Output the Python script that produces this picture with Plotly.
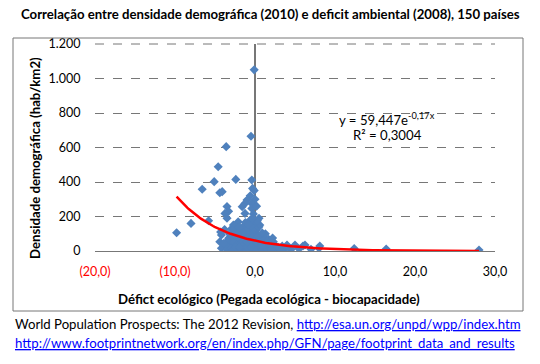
import numpy as np
import plotly.graph_objects as go

# Countries: ecological deficit (x) vs population density (y)
deficit = [
    -0.1, -0.5, -3.6, -4.6, -5.1, -2.4, -0.4, -6.6, -4.4, -4.1,
    -0.3, -0.1, -0.6, -1.0, -0.4, -1.25, -3.5, -1.6, -3.3, -1.25,
    -0.4, -3.75, -3.5, -5.8, -8.0, -9.8, -2.1, -0.6, 0.0, -0.2,
    -2.9, -1.5, -0.6, -4.2, -4.4, -4.2, -2.5, -3.3, -2.7, -2.2,
    -2.8, -2.4, -1.9, -1.3, -0.9, -0.3, -0.2, -1.7, -0.7,
    -3.0, -2.6, -2.2, -1.8, -1.4, -1.1, -0.8, -0.5, -0.2, -3.4, -2.0,
    -3.1, -2.7, -2.3, -1.9, -1.5, -1.2, -0.9, -0.6, -0.3, -0.1, -3.6, -1.6,
    -3.5, -3.0, -2.8, -2.1, -1.7, -1.3, -1.0, -0.7, -0.4, -0.2, -2.4, -1.9, -0.9,
    0.1, 0.3, 0.5, 0.2, 0.6, 0.4, 0.8, 1.0, 1.2, 0.7, 0.3, 0.1, 0.9, 1.4, 1.6, 1.9,
    2.1, 2.3, 2.5, 2.7, 1.1, 1.5, 1.8, 2.0, 2.9, 0.5, 0.2, 0.0, 0.4, 1.3, 0.6, 0.9,
    3.1, 3.4, 3.75, 4.0, 4.5, 5.0, 5.5, 6.0, 6.25, 7.0, 8.0, 8.1, 3.3, 4.2,
    12.4, 16.4, 28.0,
    -2.5, -1.0, -0.5, 0.2, 0.8, 1.7, -3.2, -2.0, -1.2, -0.8, 0.3, -0.3, 2.2,
    -4.3, -3.9, -3.8,
]
density = [
    1050, 665, 605, 488, 402, 415, 412, 358, 338, 344,
    363, 350, 320, 296, 276, 276, 258, 257, 230, 218,
    247, 218, 190, 175, 160, 106, 170, 180, 160, 215,
    131, 141, 112, 93, 54, 16, 16, 74, 151, 131,
    118, 105, 122, 110, 128, 135, 100, 95, 92,
    88, 72, 80, 66, 84, 70, 78, 62, 85, 60, 55,
    42, 48, 35, 40, 50, 32, 44, 38, 50, 30, 30, 25,
    8, 18, 4, 10, 5, 15, 3, 12, 6, 18, 22, 20, 22,
    120, 95, 140, 70, 58, 40, 64, 45, 30, 22, 12, 3, 8, 18, 5, 17,
    30, 54, 35, 10, 80, 55, 40, 4, 22, 190, 260, 300, 88, 100, 150, 105,
    15, 28, 16, 35, 8, 35, 12, 29, 35, 10, 16, 29, 5, 20,
    14, 12, 6,
    95, 55, 25, 48, 33, 68, 100, 140, 165, 155, 175, 190, 75,
    110, 45, 125,
]

# Exponential trendline shown on the chart: y = a * e^(b x)
trend_a = 59.447
trend_b = -0.17

x_range = [-20, 30]
x_ticks_neg = [-20, -10]
x_text_neg = ["(20,0)", "(10,0)"]
x_ticks_pos = [0, 10, 20, 30]
x_text_pos = ["0,0", "10,0", "20,0", "30,0"]
y_ticks = [0, 200, 400, 600, 800, 1000, 1200]

FONT = "Lato"
BLUE = "#4F81BD"
GRAY = "#777777"

tx = np.linspace(min(deficit), max(deficit), 200)
ty = trend_a * np.exp(trend_b * tx)

fig = go.Figure()
fig.add_trace(go.Scatter(
    x=deficit, y=density, mode="markers",
    marker=dict(symbol="diamond", size=7, color=BLUE),
    showlegend=False))
fig.add_trace(go.Scatter(
    x=tx, y=ty, mode="lines", line=dict(color="#ff0000", width=2.5),
    xaxis="x2", showlegend=False))

# The page body has an 8px margin; work in window pixels and subtract it.
OFF = 8
W, H = 540 - OFF, 364 - OFF
L, R, T, B = 95 - OFF, 540 - 495, 44 - OFF, 364 - 251
pw, ph = W - L - R, H - T - B

def px(xp):
    return (xp - 95) / pw

def py(yp):
    return (251 - yp) / ph

fs = 13.2

fig.update_layout(
    width=W, height=H,
    margin=dict(l=L, r=R, t=T, b=B),
    paper_bgcolor="white", plot_bgcolor="white",
    separators=",.",
    font=dict(family=FONT, size=12, color="#000000"),
    xaxis=dict(range=x_range, tickvals=x_ticks_neg, ticktext=x_text_neg,
               showgrid=False, zeroline=True, zerolinecolor=GRAY,
               showline=True, linecolor=GRAY,
               ticks="outside", ticklen=9, tickcolor="rgba(0,0,0,0)",
               tickfont=dict(family=FONT, size=12.5, color="#ff0000")),
    xaxis2=dict(range=x_range, tickvals=x_ticks_pos, ticktext=x_text_pos,
                overlaying="x", anchor="y", side="bottom",
                showgrid=False, zeroline=False, showline=False,
                ticks="outside", ticklen=9, tickcolor="rgba(0,0,0,0)",
                tickfont=dict(family=FONT, size=12.5, color="#000000")),
    yaxis=dict(range=[0, 1200], tickvals=y_ticks, tickformat=",d",
               showgrid=True, gridcolor=GRAY, gridwidth=1, griddash="dash",
               zeroline=False, showline=False, mirror=False,
               ticks="outside", ticklen=11, tickcolor="rgba(0,0,0,0)",
               tickfont=dict(family=FONT, size=12.5, color="#000000")),
    shapes=[
        dict(type="rect", xref="paper", yref="paper",
             x0=px(13), x1=px(523), y0=py(311), y1=py(38),
             line=dict(color=GRAY, width=1)),
        dict(type="line", xref="paper", yref="paper",
             x0=0, x1=1, y0=1, y1=1,
             line=dict(color=GRAY, width=1, dash="dash")),
    ],
    annotations=[
        dict(text="<b>Correlação entre densidade demográfica (2010) e deficit ambiental (2008), 150 países</b>",
             xref="paper", yref="paper", x=px(270), y=py(14),
             xanchor="center", yanchor="middle", showarrow=False,
             font=dict(family=FONT, size=13.2, color="#000000")),
        dict(text="<b>Densidade demográfica (hab/km2)</b>",
             xref="paper", yref="paper", x=px(35), y=py(158), textangle=-90,
             xanchor="center", yanchor="middle", showarrow=False,
             font=dict(family=FONT, size=fs, color="#000000")),
        dict(text="<b>Défict ecológico (Pegada ecológica - biocapacidade)</b>",
             xref="paper", yref="paper", x=px(269), y=py(299),
             xanchor="center", yanchor="middle", showarrow=False,
             font=dict(family=FONT, size=fs, color="#000000")),
        dict(text="y = 59,447e<sup>-0,17x</sup>",
             xref="paper", yref="paper", x=px(387), y=py(119),
             xanchor="center", yanchor="middle", showarrow=False,
             font=dict(family=FONT, size=fs, color="#000000")),
        dict(text="R² = 0,3004",
             xref="paper", yref="paper", x=px(387), y=py(135),
             xanchor="center", yanchor="middle", showarrow=False,
             font=dict(family=FONT, size=fs, color="#000000")),
        dict(text='World Population Prospects: The 2012 Revision, '
                  '<span style="color:#0000ff"><u>http://esa.un.org/unpd/wpp/index.htm</u></span>',
             xref="paper", yref="paper", x=px(13), y=py(324),
             xanchor="left", yanchor="middle", showarrow=False,
             font=dict(family=FONT, size=fs, color="#000000")),
        dict(text='<span style="color:#0000ff"><u>http://www.footprintnetwork.org/en/index.php/GFN/page/footprint_data_and_results</u></span>',
             xref="paper", yref="paper", x=px(13), y=py(343),
             xanchor="left", yanchor="middle", showarrow=False,
             font=dict(family=FONT, size=fs, color="#000000")),
    ],
)

fig.write_html("out.html")
